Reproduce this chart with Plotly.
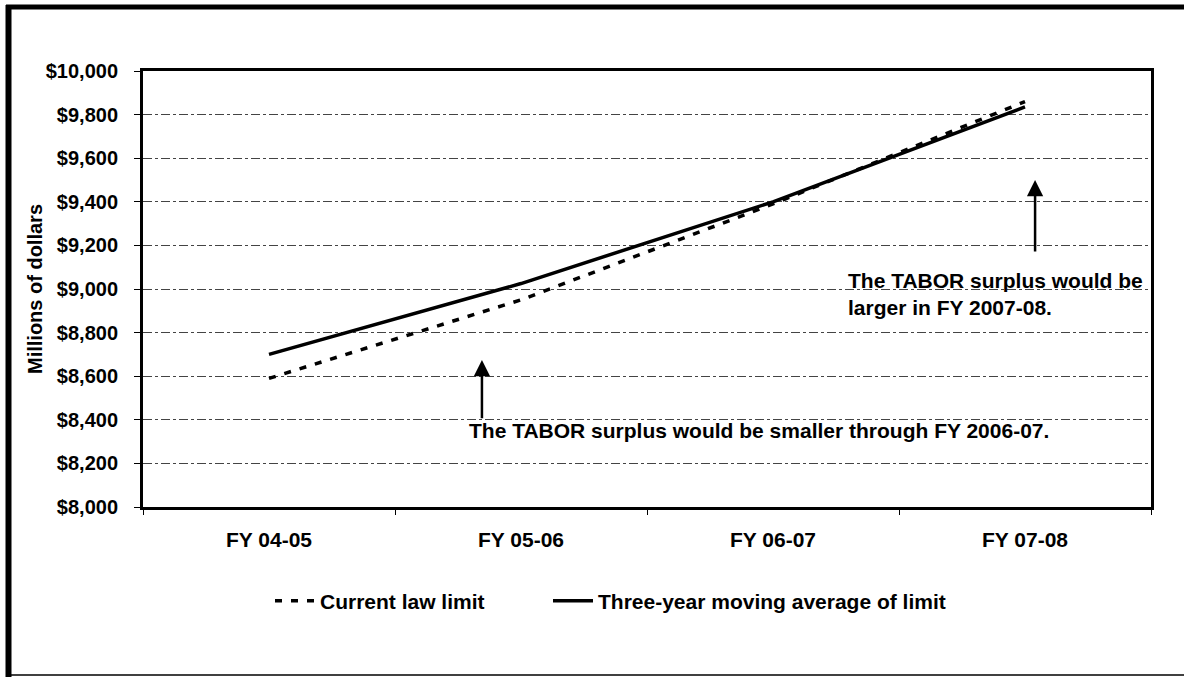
import plotly.graph_objects as go

categories = ["FY 04-05", "FY 05-06", "FY 06-07", "FY 07-08"]
current_law_limit = [8590, 8950, 9390, 9860]
three_year_avg = [8700, 9025, 9400, 9835]
y_ticks = [8000 + 200 * i for i in range(11)]

FONT = "Arial, Liberation Sans, sans-serif"
W, H = 1184, 677
# plot area in pixels
L, R, T, B = 143, 1151, 71, 507
def px(xp):
    return (xp - L) / (R - L)
def py(yp):
    return (B - yp) / (B - T)

def bold(size):
    return dict(family=FONT, size=size, color="black", weight="bold")

fig = go.Figure()
fig.add_trace(go.Scatter(
    x=categories, y=current_law_limit, mode="lines",
    name="Current law limit", legend="legend",
    line=dict(color="black", width=3.5, dash="7px,9px"),
))
fig.add_trace(go.Scatter(
    x=categories, y=three_year_avg, mode="lines",
    name="Three-year moving average of limit", legend="legend2",
    line=dict(color="black", width=3.5),
))

annotations = [
    dict(text="Millions of dollars", xref="paper", yref="paper",
         x=px(35), y=0.5, xanchor="center", yanchor="middle",
         textangle=-90, showarrow=False, font=bold(20)),
    dict(x=0.845, y=8674, ax=0.845, ay=8400, xref="x", yref="y",
         axref="x", ayref="y", text="", showarrow=True,
         arrowhead=2, arrowsize=1.3, arrowwidth=2.5, arrowcolor="black"),
    dict(x=3.04, y=9500, ax=3.04, ay=9165, xref="x", yref="y",
         axref="x", ayref="y", text="", showarrow=True,
         arrowhead=2, arrowsize=1.3, arrowwidth=2.5, arrowcolor="black"),
    dict(text="The TABOR surplus would be smaller through FY 2006-07.",
         x=0.786, y=8349, xref="x", yref="y", xanchor="left",
         yanchor="middle", showarrow=False, font=bold(21)),
    dict(text="The TABOR surplus would be<br>larger in FY 2007-08.",
         x=2.29, y=8975, xref="x", yref="y", xanchor="left",
         yanchor="middle", align="left", showarrow=False, font=bold(21)),
]

shapes = [
    dict(type="line", xref="paper", yref="paper", x0=px(8.5), x1=px(8.5),
         y0=py(5), y1=py(677), line=dict(color="black", width=6)),
    dict(type="line", xref="paper", yref="paper", x0=px(6), x1=px(1184),
         y0=py(7), y1=py(7), line=dict(color="black", width=5)),
    dict(type="line", xref="paper", yref="paper", x0=px(8), x1=px(1184),
         y0=py(675), y1=py(675), line=dict(color="black", width=1.5)),
]

legend_common = dict(orientation="h", xanchor="left", yanchor="middle",
                     y=py(601), font=bold(21), itemwidth=40,
                     bgcolor="rgba(0,0,0,0)")

fig.update_layout(
    width=W, height=H,
    margin=dict(l=L, r=W - R, t=T, b=H - B),
    paper_bgcolor="white", plot_bgcolor="white",
    font=dict(family=FONT, color="black"),
    showlegend=True,
    legend=dict(x=px(270), **legend_common),
    legend2=dict(x=px(548), **legend_common),
    annotations=annotations,
    shapes=shapes,
)
fig.update_xaxes(
    type="category", categoryorder="array", categoryarray=categories,
    showline=True, linecolor="black", linewidth=3, mirror=True,
    ticks="outside", tickson="boundaries", ticklen=5, tickcolor="black",
    showgrid=False, ticklabelstandoff=12,
    tickfont=bold(21), range=[-0.5, 3.5],
)
fig.update_yaxes(
    range=[8000, 10000], tickvals=y_ticks,
    ticktext=["${:,}".format(v) for v in y_ticks],
    showline=True, linecolor="black", linewidth=3, mirror=True,
    ticks="outside", ticklen=6, tickcolor="black", ticklabelstandoff=12,
    showgrid=True, gridcolor="#444", gridwidth=1, griddash="dashdot",
    zeroline=False, tickfont=bold(20),
)

fig.write_html("out.html", config={"displayModeBar": False},
               post_script="document.body.style.margin='0';")
